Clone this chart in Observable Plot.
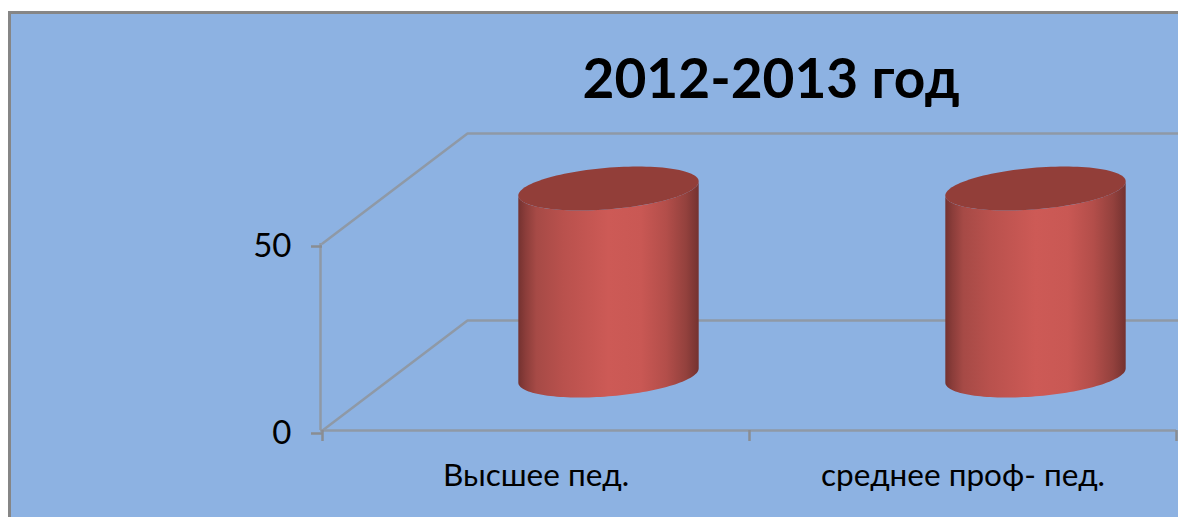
<!DOCTYPE html>
<html lang="ru">
<head>
<meta charset="utf-8">
<script src="https://cdn.jsdelivr.net/npm/d3@7"></script>
<script src="https://cdn.jsdelivr.net/npm/@observablehq/plot@0.6"></script>
<style>
html,body{margin:0;padding:0;background:#fff;overflow:hidden}
#wrap{position:relative;width:1178px;height:517px;overflow:hidden}
#panel{position:absolute;left:8px;top:11px;width:1300px;height:600px;background:#8db2e2;border:3px solid #868686}
#chart{position:absolute;left:0;top:0}
</style>
</head>
<body>
<div id="wrap"><div id="panel"></div><div id="chart"></div></div>
<script>
const titleText = "2012-2013 год";
const categories = ["Высшее пед.", "среднее проф- пед."];
const values = [50, 50];
const yTicks = [0, 50];
const xEdges = [0, 1, 2];

// Oblique 3D projection expressed in data units
const depthX = 0.3396;
const depthY = 29.4;
const project = (x, v, d) => ({x: x + d * depthX, y: v + d * depthY});

const radiusX = 0.2, radiusD = 0.2, centerD = 0.5;
const ellipsePoint = (cx, v, t) =>
  project(cx + radiusX * Math.cos(t), v, centerD + radiusD * Math.sin(t));
const t0 = Math.atan2(radiusD * depthX, radiusX);
const angles = (from, to, n = 72) => d3.range(n + 1).map(i => from + (to - from) * i / n);

const bars = values.map((v, i) => ({cx: i + 0.5, v}));
const bodyOutline = b => [
  ...angles(t0, t0 - Math.PI).map(t => ellipsePoint(b.cx, 0, t)),
  ...angles(t0 - Math.PI, t0).map(t => ellipsePoint(b.cx, b.v, t))
];
const topOutline = b => angles(0, 2 * Math.PI, 120).map(t => ellipsePoint(b.cx, b.v, t));

const wallColor = "#8f99a6";
const backEnd = 2.01 - depthX;
const wall = v => [project(0, v, 0), project(0, v, 1), project(backEnd, v, 1)];

const gradient = () => {
  const defs = d3.create("svg:defs");
  const g = defs.append("linearGradient").attr("id", "cyl").attr("x1", 0).attr("x2", 1).attr("y1", 0).attr("y2", 0);
  [[0, "#743230"], [0.04, "#8b3d3a"], [0.1, "#a64a46"], [0.25, "#b9514d"], [0.5, "#cd5a56"],
   [0.68, "#c95854"], [0.82, "#b34e4a"], [0.93, "#93413d"], [1, "#743230"]]
    .forEach(([o, c]) => g.append("stop").attr("offset", o).attr("stop-color", c));
  return defs.node();
};

const chart = Plot.plot({
  width: 1178,
  height: 517,
  marginLeft: 322,
  marginRight: 2,
  marginTop: 243,
  marginBottom: 87,
  style: {background: "transparent", fontFamily: "Lato, 'Open Sans', sans-serif"},
  x: {domain: [0, 2], axis: null},
  y: {domain: [0, 50], axis: null},
  marks: [
    gradient,
    // walls
    ...yTicks.map(v => Plot.line(wall(v), {x: "x", y: "y", stroke: wallColor, strokeWidth: 2.5})),
    Plot.ruleY([0], {stroke: wallColor, strokeWidth: 2.5, insetLeft: -2}),
    Plot.ruleX([0], {y1: 0, y2: 50, stroke: wallColor, strokeWidth: 2.5, dx: -2}),
    // axes
    Plot.axisY({ticks: yTicks, tickSize: 11, tickPadding: 20, stroke: "#8a8d92", strokeWidth: 2.5,
      fill: "#000", fontSize: 33, dy: 3, label: null, tickFormat: d => String(d)}),
    Plot.axisX({ticks: xEdges, tickSize: 11, tickFormat: () => "", stroke: "#8a8d92", strokeWidth: 2.5, label: null}),
    Plot.axisX({ticks: categories.map((c, i) => i + 0.5), tickSize: 0, tickPadding: 33,
      tickFormat: d => categories[Math.floor(d)], fill: "#000", fontSize: 31.5, label: null, textOverflow: null}),
    // cylinders
    ...bars.flatMap(b => [
      Plot.line(bodyOutline(b), {x: "x", y: "y", fill: "url(#cyl)", stroke: "none"}),
      Plot.line(topOutline(b), {x: "x", y: "y", fill: "#923e39", stroke: "none"})
    ]),
    // title
    Plot.text([titleText], {frameAnchor: "top", dx: 21.5, dy: -185, fontSize: 55, fontWeight: 700, fill: "#000"})
  ]
});
document.getElementById("chart").appendChild(chart);
</script>
</body>
</html>
